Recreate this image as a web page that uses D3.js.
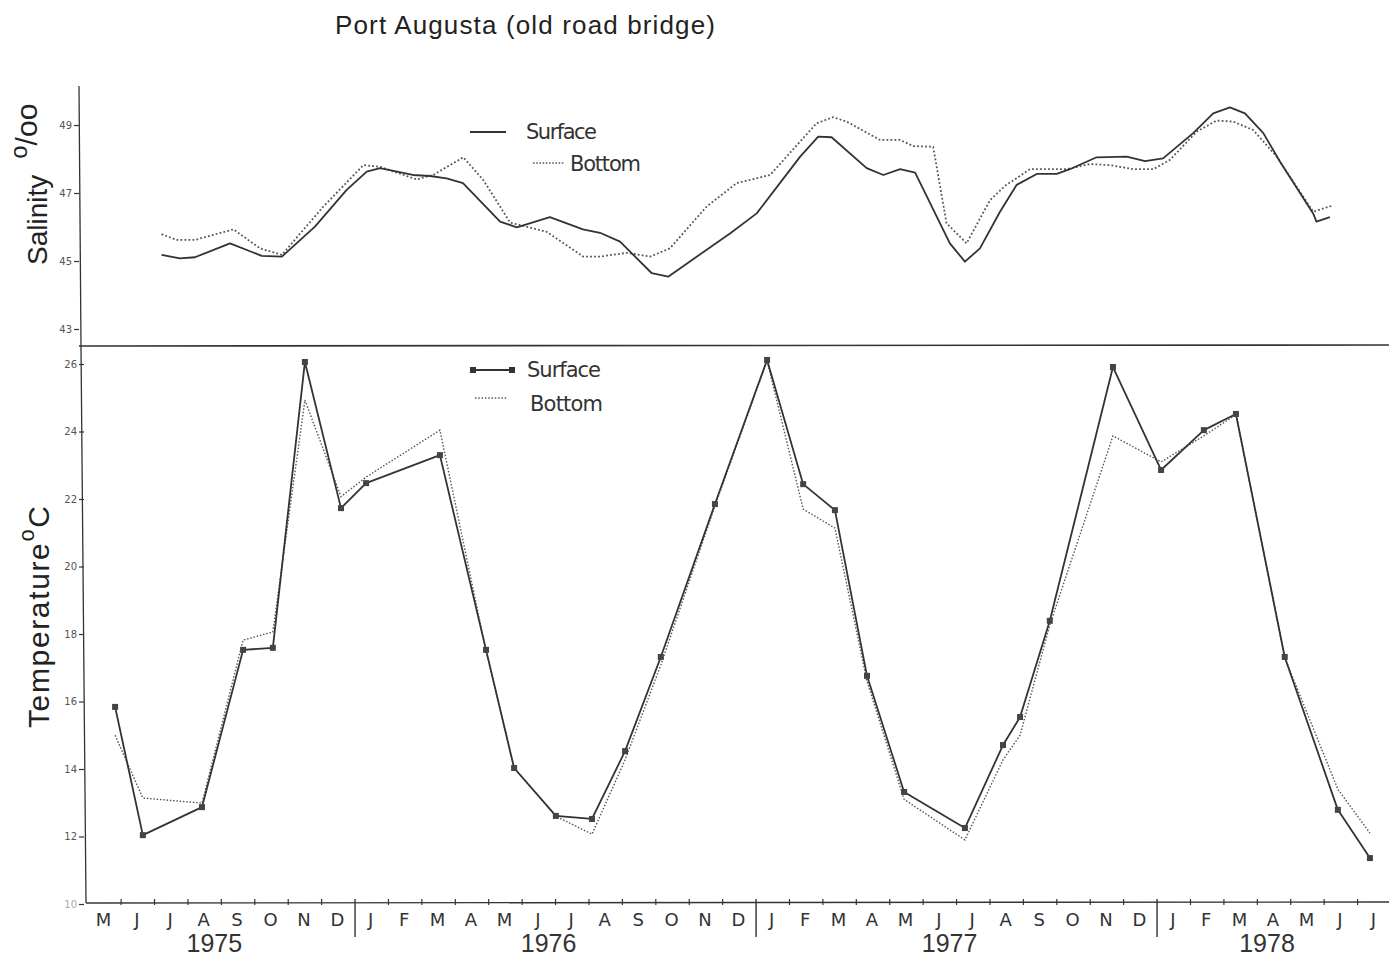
<!DOCTYPE html>
<html>
<head>
<meta charset="utf-8">
<title>Port Augusta (old road bridge)</title>
<script src="https://d3js.org/d3.v7.min.js"></script>
<style>
body { margin: 0; background: #fff; }
svg { display: block; }
</style>
</head>
<body>
<div id="chart"></div>
<script>
// month labels, May 1975 .. July 1978 (39 months)
var monthLabels = ["M","J","J","A","S","O","N","D",
    "J","F","M","A","M","J","J","A","S","O","N","D",
    "J","F","M","A","M","J","J","A","S","O","N","D",
    "J","F","M","A","M","J","J"];
var yearLabels = ["1975", "1976", "1977", "1978"];
var yearStarts = [0, 8, 20, 32, 39];   // month index where each year begins

var salTicks = [43, 45, 47, 49];
var tempTicks = [10, 12, 14, 16, 18, 20, 22, 24, 26];

// salinity (‰), [month index, value]
var salSurface = [
    [2.15,45.18],[2.70,45.08],[3.15,45.11],[4.20,45.52],[5.15,45.15],[5.75,45.13],
    [6.74,46.01],[7.69,47.09],[8.29,47.63],[8.69,47.73],[9.67,47.53],[10.18,47.50],
    [10.68,47.43],[11.17,47.29],[12.28,46.16],[12.78,45.99],[13.77,46.29],[14.76,45.93],
    [15.27,45.83],[15.87,45.57],[16.82,44.64],[17.31,44.54],[19.16,45.81],[19.96,46.40],
    [21.26,48.07],[21.80,48.66],[22.20,48.64],[23.25,47.73],[23.75,47.53],[24.25,47.70],
    [24.70,47.60],[25.74,45.52],[26.19,44.98],[26.64,45.37],[27.24,46.45],[27.74,47.24],
    [28.34,47.56],[28.94,47.56],[29.33,47.70],[30.13,48.05],[31.03,48.07],[31.58,47.94],
    [32.12,48.02],[33.02,48.76],[33.62,49.34],[34.12,49.52],[34.57,49.34],[35.12,48.76],
    [35.62,47.92],[36.61,46.40],[36.71,46.16],[37.11,46.29]
];
var salBottom = [
    [2.15,45.79],[2.60,45.62],[3.15,45.62],[4.30,45.93],[5.10,45.37],[5.75,45.18],
    [6.99,46.60],[8.19,47.82],[8.69,47.77],[9.78,47.40],[10.28,47.53],[11.18,48.05],
    [11.78,47.38],[12.58,46.13],[13.67,45.86],[14.77,45.13],[15.27,45.13],[16.07,45.24],
    [16.77,45.13],[17.36,45.37],[18.46,46.60],[19.36,47.29],[20.36,47.53],[21.75,49.05],
    [22.25,49.23],[22.65,49.10],[23.65,48.56],[24.25,48.56],[24.64,48.38],[25.24,48.36],
    [25.64,46.11],[26.24,45.52],[26.94,46.79],[27.39,47.21],[28.14,47.70],[29.23,47.70],
    [29.93,47.85],[30.53,47.82],[31.23,47.70],[31.83,47.70],[32.32,47.97],[33.12,48.80],
    [33.72,49.13],[34.22,49.10],[34.82,48.85],[35.52,48.07],[36.61,46.45],[37.16,46.62]
];

// temperature (°C), sampling times (month index) shared by both series
var tempMonths = [0.76,1.59,3.36,4.59,5.48,6.44,7.52,8.27,10.48,11.86,12.70,13.95,
    15.03,16.02,17.09,18.71,20.27,21.35,22.30,23.26,24.37,26.19,27.33,27.84,
    28.73,30.62,32.06,33.34,34.30,35.76,37.35,38.31];
var tempSurface = [15.84,12.04,12.87,17.53,17.59,26.06,21.73,22.47,23.30,17.53,14.03,12.61,
    12.52,14.53,17.32,21.85,26.12,22.44,21.67,16.76,13.32,12.25,14.71,15.54,
    18.39,25.91,22.86,24.04,24.52,17.32,12.79,11.36];
var tempBottom = [15.00,13.14,12.99,17.82,18.06,24.93,22.07,22.65,24.04,17.50,14.03,12.60,
    12.07,14.27,17.08,21.80,26.10,21.70,21.14,16.60,13.10,11.90,14.27,15.00,
    18.27,23.87,23.10,23.87,24.50,17.30,13.40,12.10];

var W = 1389, H = 959;
var ink = "#333";

var svg = d3.select("#chart").append("svg")
    .attr("width", W)
    .attr("height", H)
    .style("font-family", "'Liberation Sans', Arial, sans-serif");

var x = d3.scaleLinear().domain([0, 39]).range([89.7, 1393]);
var ySal = d3.scaleLinear().domain([43, 49]).range([329, 125]);
var yTemp = d3.scaleLinear().domain([10, 26]).range([904, 364]);

var salAxisX = 79, tempAxisX = 83, dividerY = 346, baseY = 903;

// title
svg.append("text")
    .attr("x", 335).attr("y", 34)
    .attr("textLength", 380)
    .style("font-size", "26px")
    .attr("fill", "#222")
    .text("Port Augusta (old road bridge)");

// y axis lines
svg.append("line")
    .attr("x1", salAxisX).attr("x2", salAxisX + 2)
    .attr("y1", 86).attr("y2", dividerY)
    .attr("stroke", ink).attr("stroke-width", 1.3);
svg.append("line")
    .attr("x1", salAxisX + 2).attr("x2", tempAxisX + 3)
    .attr("y1", dividerY).attr("y2", baseY)
    .attr("stroke", ink).attr("stroke-width", 1.3);

// divider between the panels
svg.append("line")
    .attr("x1", salAxisX).attr("x2", W)
    .attr("y1", dividerY).attr("y2", dividerY - 1)
    .attr("stroke", ink).attr("stroke-width", 1.6);

// salinity axis
var gSal = svg.append("g")
    .attr("transform", "translate(" + salAxisX + ",0)")
    .call(d3.axisLeft(ySal).tickValues(salTicks).tickFormat(d3.format("d"))
        .tickSize(5).tickPadding(2).tickSizeOuter(0));
gSal.select(".domain").remove();

// temperature axis
var gTemp = svg.append("g")
    .attr("transform", "translate(" + (tempAxisX + 1) + ",0)")
    .call(d3.axisLeft(yTemp).tickValues(tempTicks).tickFormat(d3.format("d"))
        .tickSize(5).tickPadding(2).tickSizeOuter(0));
gTemp.select(".domain").remove();

svg.selectAll(".tick line").attr("stroke", ink).attr("stroke-width", 1.2);
svg.selectAll(".tick text")
    .attr("fill", "#555")
    .style("font-size", "10px")
    .style("font-family", "'DejaVu Sans', sans-serif");
gTemp.selectAll(".tick text").filter(function(d) { return d === 10; }).attr("fill", "#aaa");

// y labels
var salLabel = svg.append("text")
    .attr("transform", "translate(47,265) rotate(-90)")
    .attr("fill", "#222")
    .style("font-size", "28px");
salLabel.append("tspan").text("Salinity");
salLabel.append("tspan").attr("dx", 16).attr("dy", -20).style("font-size", "24px").text("o");
salLabel.append("tspan").attr("dx", 0).attr("dy", 10).style("font-size", "30px").text("/oo");

var tempLabel = svg.append("text")
    .attr("transform", "translate(49,728) rotate(-90)")
    .attr("fill", "#222")
    .attr("textLength", 222)
    .attr("lengthAdjust", "spacing")
    .style("font-size", "30px");
tempLabel.append("tspan").text("Temperature");
tempLabel.append("tspan").attr("dy", -15).style("font-size", "22px").text("o");
tempLabel.append("tspan").attr("dy", 15).text("C");

// x axis
svg.append("line")
    .attr("x1", tempAxisX + 3).attr("x2", W)
    .attr("y1", baseY).attr("y2", baseY - 1)
    .attr("stroke", ink).attr("stroke-width", 1.4);

var boundaries = d3.range(1, 39);
svg.append("g").selectAll("line")
    .data(boundaries)
    .enter()
    .append("line")
    .attr("x1", function(d) { return x(d) - 2; })
    .attr("x2", function(d) { return x(d) - 2; })
    .attr("y1", function(d) { return baseY - 4; })
    .attr("y2", function(d) { return yearStarts.indexOf(d) >= 0 ? baseY + 34 : baseY + 2; })
    .attr("stroke", ink)
    .attr("stroke-width", function(d) { return yearStarts.indexOf(d) >= 0 ? 1.4 : 1.2; });

svg.append("g").selectAll("text")
    .data(monthLabels)
    .enter()
    .append("text")
    .attr("x", function(d, i) { return x(i + 0.5) - 3; })
    .attr("y", 926)
    .attr("text-anchor", "middle")
    .attr("fill", "#333")
    .style("font-family", "'DejaVu Sans', sans-serif")
    .style("font-size", "18px")
    .text(function(d) { return d; });

svg.append("g").selectAll("text")
    .data(yearLabels)
    .enter()
    .append("text")
    .attr("x", function(d, i) { return x((yearStarts[i] + yearStarts[i + 1]) / 2) - 9; })
    .attr("y", 952)
    .attr("text-anchor", "middle")
    .attr("fill", "#333")
    .style("font-size", "25px")
    .text(function(d) { return d; });

// salinity lines
var salLine = d3.line()
    .x(function(d) { return x(d[0]); })
    .y(function(d) { return ySal(d[1]); });

svg.append("path")
    .datum(salBottom)
    .attr("fill", "none")
    .attr("stroke", "#555")
    .attr("stroke-width", 1.8)
    .attr("stroke-dasharray", "1.8,2.2")
    .attr("d", salLine);

svg.append("path")
    .datum(salSurface)
    .attr("fill", "none")
    .attr("stroke", ink)
    .attr("stroke-width", 1.8)
    .attr("stroke-linejoin", "round")
    .attr("d", salLine);

// temperature lines
var tempLine = function(values) {
    return d3.line()
        .x(function(d, i) { return x(tempMonths[i]); })
        .y(function(d) { return yTemp(d); })(values);
};

svg.append("path")
    .attr("fill", "none")
    .attr("stroke", "#555")
    .attr("stroke-width", 1.4)
    .attr("stroke-dasharray", "1.5,1.8")
    .attr("d", tempLine(tempBottom));

svg.append("path")
    .attr("fill", "none")
    .attr("stroke", ink)
    .attr("stroke-width", 1.8)
    .attr("stroke-linejoin", "round")
    .attr("d", tempLine(tempSurface));

svg.append("g").selectAll("rect")
    .data(tempSurface)
    .enter()
    .append("rect")
    .attr("x", function(d, i) { return x(tempMonths[i]) - 3; })
    .attr("y", function(d) { return yTemp(d) - 3; })
    .attr("width", 6)
    .attr("height", 6)
    .attr("fill", "#444");

// legends
var legendFont = "'DejaVu Sans', sans-serif";
svg.append("line")
    .attr("x1", 470).attr("x2", 506).attr("y1", 132).attr("y2", 132)
    .attr("stroke", ink).attr("stroke-width", 2);
svg.append("text")
    .attr("x", 526).attr("y", 139).attr("textLength", 71)
    .style("font-family", legendFont).style("font-size", "21px")
    .attr("fill", "#333").text("Surface");
svg.append("line")
    .attr("x1", 533).attr("x2", 564).attr("y1", 163).attr("y2", 163)
    .attr("stroke", "#555").attr("stroke-width", 1.6).attr("stroke-dasharray", "1.6,1.6");
svg.append("text")
    .attr("x", 570).attr("y", 171).attr("textLength", 71)
    .style("font-family", legendFont).style("font-size", "21px")
    .attr("fill", "#333").text("Bottom");

svg.append("line")
    .attr("x1", 473).attr("x2", 512).attr("y1", 370).attr("y2", 370)
    .attr("stroke", ink).attr("stroke-width", 2);
svg.append("g").selectAll("rect")
    .data([473, 512])
    .enter()
    .append("rect")
    .attr("x", function(d) { return d - 3; })
    .attr("y", 367).attr("width", 6).attr("height", 6)
    .attr("fill", "#333");
svg.append("text")
    .attr("x", 527).attr("y", 377).attr("textLength", 74)
    .style("font-family", legendFont).style("font-size", "21px")
    .attr("fill", "#333").text("Surface");
svg.append("line")
    .attr("x1", 475).attr("x2", 508).attr("y1", 398).attr("y2", 398)
    .attr("stroke", "#555").attr("stroke-width", 1.4).attr("stroke-dasharray", "1.5,1.8");
svg.append("text")
    .attr("x", 530).attr("y", 411).attr("textLength", 73)
    .style("font-family", legendFont).style("font-size", "21px")
    .attr("fill", "#333").text("Bottom");
</script>
</body>
</html>
